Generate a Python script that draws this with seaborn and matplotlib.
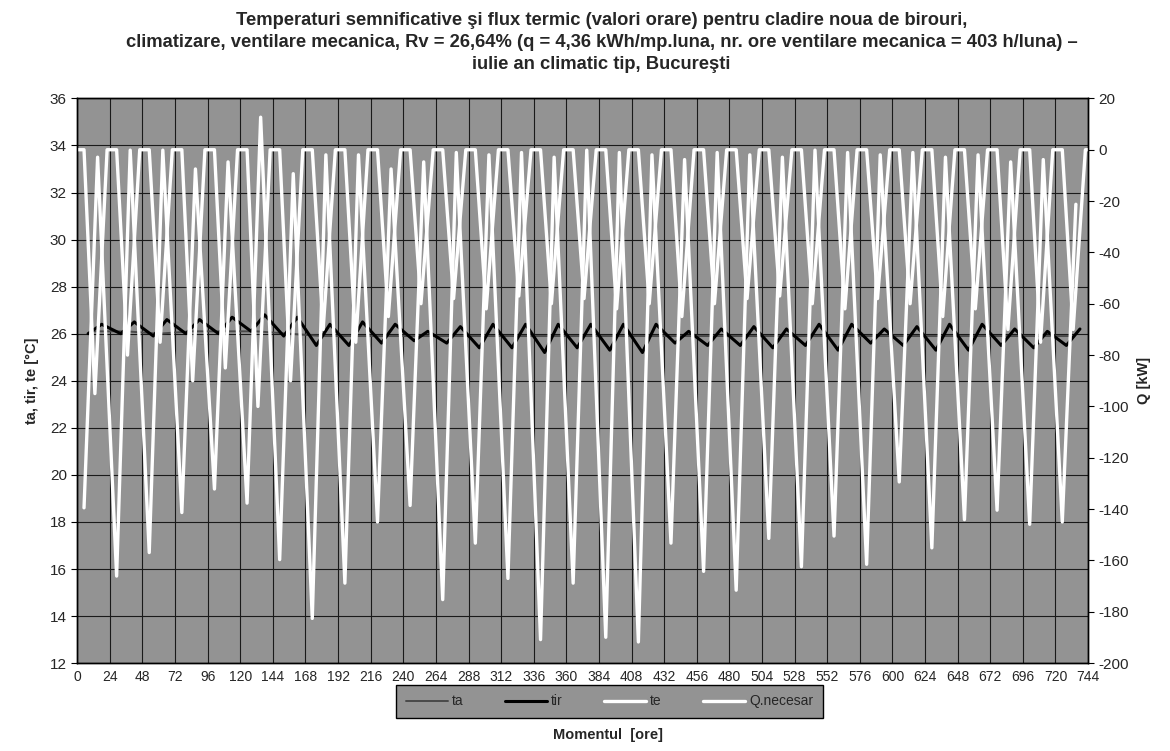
import numpy as np
import pandas as pd
import matplotlib
matplotlib.use("Agg")
import matplotlib.pyplot as plt
import seaborn as sns

# Hourly timeline of one month (July): 31 days, 744 hours
days = list(range(31))
hour_ticks = list(range(0, 745, 24))

# Outdoor temperature te [°C]: daily minimum (early morning) and maximum (afternoon)
te_min = [18.6, 15.7, 16.7, 18.4, 19.4, 18.8, 16.4, 13.9, 15.4, 18.0,
          18.7, 14.7, 17.1, 15.6, 13.0, 15.4, 13.1, 12.9, 17.1, 15.9,
          15.1, 17.3, 16.1, 17.4, 16.2, 19.7, 16.9, 18.1, 18.5, 17.9, 18.0]
te_max = [33.5, 33.8, 33.8, 33.0, 33.3, 35.2, 32.8, 33.6, 33.6, 33.0,
          33.3, 33.7, 33.6, 33.7, 33.5, 33.8, 33.7, 33.6, 33.4, 33.7,
          33.6, 33.5, 33.8, 33.7, 33.6, 33.7, 33.5, 33.6, 33.3, 33.4, 31.5]
te_min_hour, te_max_hour = 5, 15

# Mean radiant temperature tir [°C]: daily low / high
tir_min = [26.0, 26.0, 25.9, 26.0, 26.0, 26.1, 25.9, 25.5, 25.5, 25.6,
           25.7, 25.6, 25.4, 25.4, 25.2, 25.4, 25.3, 25.2, 25.6, 25.5,
           25.5, 25.4, 25.5, 25.3, 25.6, 25.5, 25.3, 25.3, 25.5, 25.4, 25.5]
tir_max = [26.4, 26.5, 26.6, 26.6, 26.7, 26.8, 26.7, 26.4, 26.5, 26.4,
           26.1, 26.3, 26.4, 26.4, 26.4, 26.4, 26.4, 26.4, 26.1, 26.2,
           26.3, 26.2, 26.4, 26.4, 26.2, 26.3, 26.4, 26.4, 26.2, 26.1, 26.2]
tir_min_hour, tir_max_hour = 8, 18

# Indoor air temperature ta [°C]: daily value
ta_day = [26.1, 26.1, 26.0, 26.1, 26.1, 26.1, 26.0, 25.9, 25.9, 25.9,
          25.9, 25.9, 25.9, 25.9, 25.9, 25.9, 25.9, 25.9, 25.9, 25.9,
          25.9, 25.9, 25.9, 25.9, 25.9, 25.9, 25.9, 25.9, 25.9, 25.9, 25.9]

# Required heat flux Q [kW]: zero at night, cooling load (negative) during the day
q_min = [-95, -80, -75, -90, -85, -100, -90, -70, -75, -65,
         -60, -58, -62, -57, -60, -58, -62, -60, -65, -60,
         -58, -57, -60, -62, -58, -60, -65, -62, -70, -75, -70]
q_on_hour, q_peak_hour, q_off_hour = 5, 13, 22

title = ("Temperaturi semnificative şi flux termic (valori orare) pentru cladire noua de birouri,\n"
         "climatizare, ventilare mecanica, Rv = 26,64% (q = 4,36 kWh/mp.luna, nr. ore ventilare mecanica = 403 h/luna) –\n"
         "iulie an climatic tip, Bucureşti")


def daily_series(lo, hi, lo_h, hi_h):
    rows = []
    for d in days:
        rows.append((24 * d + lo_h, lo[d]))
        rows.append((24 * d + hi_h, hi[d]))
    return pd.DataFrame(rows, columns=["ora", "val"])


te_df = daily_series(te_min, te_max, te_min_hour, te_max_hour)
tir_df = daily_series(tir_min, tir_max, tir_min_hour, tir_max_hour)
ta_df = pd.DataFrame({"ora": [24 * d + 12 for d in days], "val": ta_day})

q_rows = [(0, 0)]
for d in days:
    q_rows += [(24 * d + q_on_hour, 0), (24 * d + q_peak_hour, q_min[d]),
               (24 * d + q_off_hour, 0)]
q_rows.append((744, 0))
q_df = pd.DataFrame(q_rows, columns=["ora", "val"])

sns.set_style("white")
plt.rcParams["font.family"] = ["Liberation Sans", "DejaVu Sans"]
plt.rcParams["axes.unicode_minus"] = False

BG = "#939393"

fig = plt.figure(figsize=(11.7, 7.51), dpi=100)
ax = fig.add_axes([0.066, 0.117, 0.864, 0.752])
ax.set_facecolor(BG)

sns.lineplot(data=ta_df, x="ora", y="val", ax=ax, color="#4a4a4a", lw=1.4,
             label="ta", sort=False)
sns.lineplot(data=tir_df, x="ora", y="val", ax=ax, color="black", lw=2.2,
             label="tir", sort=False)
sns.lineplot(data=te_df, x="ora", y="val", ax=ax, color="white", lw=2.4,
             label="te", sort=False)

ax2 = ax.twinx()
sns.lineplot(data=q_df, x="ora", y="val", ax=ax2, color="white", lw=2.4,
             label="Q.necesar", sort=False)

ax.set_xlim(0, 744)
ax.set_ylim(12, 36)
ax2.set_ylim(-200, 20)
ax.set_xticks(hour_ticks)
ax.set_yticks(range(12, 37, 2))
ax2.set_yticks(range(-200, 21, 20))
ax.grid(True, color="#1a1a1a", lw=0.8)
ax.set_axisbelow(True)
for a in (ax, ax2):
    for s in a.spines.values():
        s.set_color("black")
        s.set_linewidth(1.0)
ax.tick_params(axis="x", labelsize=10, length=0, pad=5)
ax.tick_params(axis="y", labelsize=11, length=4, left=True, color="black")
ax2.tick_params(axis="y", labelsize=11, length=4, right=True, color="black")

ax.set_xlabel("")
ax.set_ylabel("ta, tir, te [°C]", fontsize=10.5, fontweight="bold", labelpad=8)
ax2.set_ylabel("Q [kW]", fontsize=10.5, fontweight="bold", labelpad=6)

h1, l1 = ax.get_legend_handles_labels()
h2, l2 = ax2.get_legend_handles_labels()
ax.get_legend().remove()
ax2.get_legend().remove()
leg = fig.legend(h1 + h2, l1 + l2, loc="center", bbox_to_anchor=(0.521, 0.066),
                 ncol=4, frameon=True, fancybox=False, fontsize=10,
                 handlelength=3.0, handletextpad=0.3, columnspacing=3.0,
                 borderpad=0.7)
leg.get_frame().set_facecolor(BG)
leg.get_frame().set_edgecolor("black")
leg.get_frame().set_alpha(1)

fig.text(0.52, 0.021, "Momentul  [ore]", ha="center", va="center",
         fontsize=10.5, fontweight="bold")
fig.text(0.514, 0.984, title, ha="center", va="top", fontsize=13.2,
         fontweight="bold", linespacing=1.38)

fig.savefig("out.png", dpi=100)
